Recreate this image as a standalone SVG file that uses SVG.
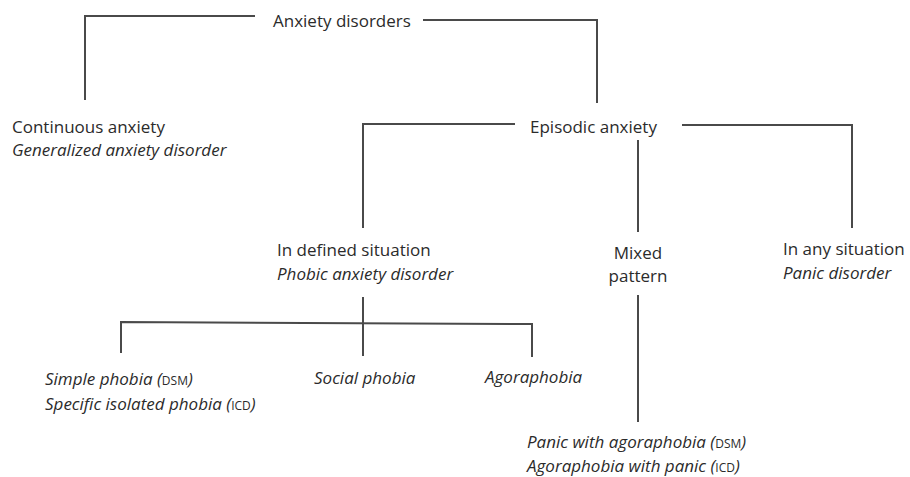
<svg xmlns="http://www.w3.org/2000/svg" width="910" height="477" viewBox="0 0 910 477">
<style>
text{font-family:"Open Sans","Noto Sans",sans-serif;font-size:17px;fill:#2b2b2b}
.i{font-style:italic}
.sc{font-size:12px;font-style:normal}
.c line,.c polyline{stroke:#4a4a4a;stroke-width:2;fill:none}
</style>
<rect width="910" height="477" fill="#fff"/>
<g class="c" id="connectors">
<polyline points="255,16 85,16 85,100"/>
<polyline points="423,20 597,20 597,103"/>
<polyline points="515,124 363,124 363,228"/>
<polyline points="682,125 852,125 852,228"/>
<line x1="638" y1="140" x2="638" y2="232"/>
<line x1="363" y1="297" x2="363" y2="356"/>
<polyline points="121,353 121,322 532,324 532,357"/>
<line x1="638" y1="295" x2="638" y2="422"/>
</g>
<g id="n-anxiety"><text x="273" y="27">Anxiety disorders</text></g>
<g id="n-continuous"><text x="12" y="133">Continuous anxiety</text><text class="i" x="12" y="156">Generalized anxiety disorder</text></g>
<g id="n-episodic"><text x="530" y="133">Episodic anxiety</text></g>
<g id="n-defined"><text x="277" y="256">In defined situation</text><text class="i" x="277" y="280">Phobic anxiety disorder</text></g>
<g id="n-mixed"><text x="638" y="259" text-anchor="middle">Mixed</text><text x="638" y="282" text-anchor="middle">pattern</text></g>
<g id="n-any"><text x="783" y="255">In any situation</text><text class="i" x="783" y="279">Panic disorder</text></g>
<g id="n-simple"><text class="i" x="45" y="385">Simple phobia (<tspan class="sc">DSM</tspan>)</text><text class="i" x="45" y="410">Specific isolated phobia (<tspan class="sc">ICD</tspan>)</text></g>
<g id="n-social"><text class="i" x="314" y="384">Social phobia</text></g>
<g id="n-agora"><text class="i" x="485" y="383">Agoraphobia</text></g>
<g id="n-panicagora"><text class="i" x="527" y="448">Panic with agoraphobia (<tspan class="sc">DSM</tspan>)</text><text class="i" x="527" y="472">Agoraphobia with panic (<tspan class="sc">ICD</tspan>)</text></g>
</svg>
